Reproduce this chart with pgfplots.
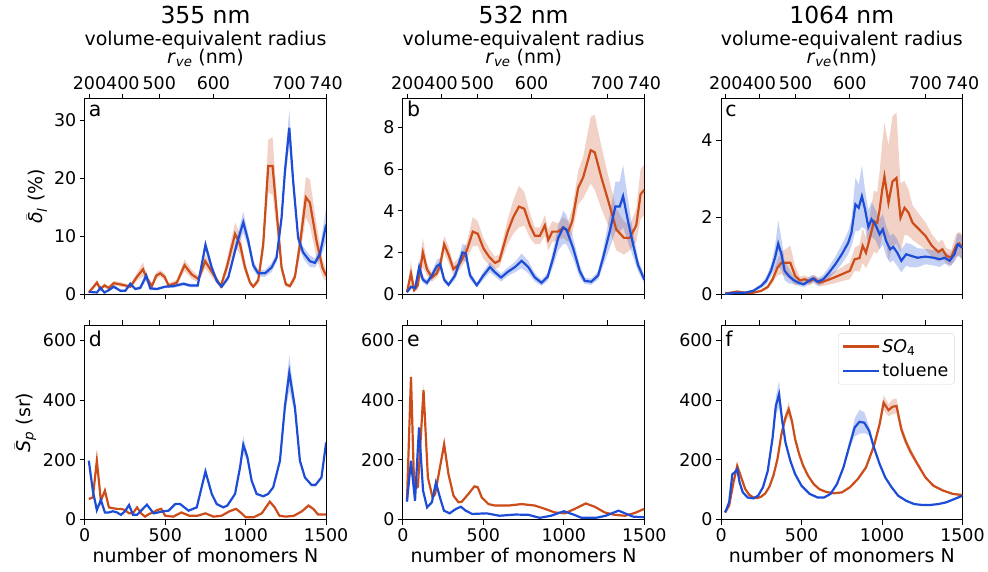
\documentclass[border=0pt]{standalone}
\usepackage{fontspec}
\setmainfont{DejaVu Sans}
\usepackage{pgfplots}
\usepackage{pgfplotstable}
\pgfplotsset{compat=1.18}
\usepgfplotslibrary{fillbetween}

\definecolor{so4}{RGB}{204,77,26}
\definecolor{tol}{RGB}{29,77,214}
\newcommand{\fs}[1]{\fontsize{#1}{#1}\selectfont}

% mean and half-width of the shaded band, per series
\pgfplotstableread{
N y e
25 0.3 0.2
76 2.0 0.5
97 0.9 0.3
122 1.5 0.4
149 1.1 0.3
180 1.9 0.4
221 1.7 0.4
283 1.3 0.3
324 3.0 0.7
362 4.3 1.2
382 2.9 0.8
417 1.4 0.4
444 3.2 0.6
469 3.6 0.6
496 3.0 0.6
521 1.5 0.4
572 2.0 0.5
620 5.0 1.0
665 3.4 0.8
707 2.6 0.6
748 5.7 1.2
800 3.4 0.8
845 1.4 0.4
882 4.6 1.2
934 10.4 2.0
965 8.6 1.8
996 4.6 1.0
1027 2.0 0.5
1047 1.3 0.3
1078 2.4 0.6
1109 8.6 2.0
1140 22.1 4.5
1167 22.1 5.0
1192 14.3 3.0
1223 4.6 1.0
1250 1.7 0.4
1275 1.4 0.3
1306 3.0 0.8
1337 8.6 2.0
1374 16.7 3.5
1399 15.8 4.0
1440 9.2 3.0
1477 4.6 1.5
1500 3.2 1.0
}\aSO
\pgfplotstableread{
N y e
25 0.4 0.1
76 0.3 0.1
97 1.1 0.3
122 0.3 0.1
149 0.7 0.2
180 1.3 0.3
221 0.6 0.2
252 0.6 0.2
283 1.8 0.4
314 0.9 0.2
345 1.1 0.3
382 3.2 0.8
407 1.0 0.3
448 0.9 0.2
500 1.3 0.2
552 1.4 0.3
614 1.8 0.3
655 1.5 0.3
702 1.5 0.3
750 8.5 1.0
789 4.6 0.7
820 2.3 0.4
851 1.3 0.3
892 2.9 0.5
944 8.6 1.0
985 12.4 1.8
1016 9.2 1.2
1047 5.0 0.8
1078 3.6 0.6
1120 3.6 0.6
1161 4.6 0.8
1192 6.3 0.8
1223 13.2 1.2
1244 21.2 1.8
1271 28.7 3.0
1295 19.5 2.0
1326 9.7 1.0
1357 7.2 1.0
1399 5.7 1.0
1430 5.4 0.8
1461 6.9 1.0
1500 12.0 3.0
}\aTO
\pgfplotstableread{
N y e
25 0.1 0.1
50 1.0 0.6
70 0.2 0.1
91 0.4 0.2
124 2.0 0.7
149 1.2 0.3
180 0.8 0.2
211 1.0 0.2
231 1.4 0.3
256 2.4 0.4
283 1.9 0.4
314 1.2 0.3
355 1.5 0.3
397 2.1 0.4
434 3.0 0.7
465 2.9 0.6
500 2.2 0.5
535 1.8 0.4
572 1.5 0.3
599 1.6 0.3
651 3.0 0.6
686 3.7 0.8
721 4.2 1.0
754 4.1 0.8
789 3.3 0.6
820 2.8 0.4
851 2.8 0.4
882 3.3 0.5
903 2.6 0.5
928 3.0 0.5
965 3.0 0.4
996 3.2 0.5
1027 3.0 0.5
1052 3.5 0.6
1089 5.1 0.8
1120 5.6 1.0
1167 6.9 1.6
1192 6.8 1.8
1233 5.6 1.5
1275 4.5 1.2
1326 3.1 1.0
1374 2.7 0.8
1409 2.7 0.6
1450 3.3 0.8
1477 4.8 1.2
1500 5.0 1.2
}\bSO
\pgfplotstableread{
N y e
25 0.1 0.05
50 0.35 0.1
76 0.3 0.1
101 1.3 0.4
124 0.7 0.15
149 0.55 0.15
180 0.9 0.2
211 1.35 0.3
231 1.45 0.3
256 0.7 0.15
283 0.45 0.1
324 0.9 0.2
370 2.0 0.4
390 1.95 0.4
417 0.9 0.2
459 0.43 0.1
500 0.9 0.2
541 1.3 0.25
572 1.05 0.2
610 0.8 0.2
651 1.07 0.2
696 1.3 0.25
738 1.6 0.35
779 1.3 0.3
820 0.8 0.2
861 0.55 0.15
899 0.83 0.2
934 1.75 0.4
965 2.7 0.6
996 3.2 0.8
1016 3.1 0.7
1058 2.2 0.5
1099 1.1 0.3
1130 0.64 0.15
1171 0.6 0.15
1213 0.9 0.2
1244 1.75 0.4
1285 3.0 0.8
1320 4.2 1.2
1347 4.2 1.2
1368 4.7 1.5
1399 3.5 1.0
1430 2.4 0.6
1461 1.4 0.3
1500 0.7 0.2
}\bTO
\pgfplotstableread{
N y e
25 0.02 0.01
100 0.07 0.02
150 0.04 0.02
200 0.04 0.02
250 0.09 0.03
290 0.19 0.05
320 0.39 0.1
350 0.69 0.2
375 0.82 0.3
400 0.82 0.35
430 0.82 0.45
460 0.48 0.25
490 0.36 0.1
520 0.39 0.1
550 0.33 0.1
580 0.41 0.1
610 0.3 0.1
650 0.35 0.12
700 0.43 0.15
750 0.52 0.18
800 0.61 0.22
830 0.91 0.3
860 0.94 0.35
880 1.26 0.45
900 1.08 0.4
920 1.39 0.55
950 1.9 0.8
970 1.86 0.8
985 2.2 1.0
1000 2.68 1.2
1015 3.07 1.4
1040 2.38 1.5
1065 2.93 1.7
1090 3.03 1.7
1115 1.99 0.9
1140 2.25 0.7
1165 2.12 0.6
1190 1.86 0.45
1230 1.69 0.4
1270 1.52 0.35
1310 1.26 0.3
1350 1.1 0.25
1375 1.17 0.25
1400 1.0 0.2
1430 0.95 0.2
1460 1.26 0.3
1480 1.32 0.3
1500 1.21 0.35
}\cSO
\pgfplotstableread{
N y e
25 0.01 0.01
100 0.04 0.01
150 0.04 0.02
200 0.09 0.03
250 0.22 0.06
280 0.35 0.1
310 0.61 0.15
335 0.95 0.3
355 1.32 0.6
375 1.04 0.4
395 0.61 0.25
420 0.48 0.2
450 0.37 0.1
485 0.29 0.08
515 0.26 0.08
545 0.35 0.1
570 0.41 0.1
600 0.32 0.1
635 0.39 0.12
670 0.56 0.15
710 0.78 0.2
750 1.04 0.25
790 1.34 0.3
810 1.6 0.35
835 2.34 0.7
855 2.25 0.6
875 2.55 0.8
895 2.2 0.5
915 1.75 0.45
935 1.95 0.45
960 1.8 0.4
985 1.56 0.4
1005 1.69 0.4
1025 1.39 0.4
1050 1.17 0.35
1070 1.23 0.35
1095 1.08 0.35
1120 0.87 0.3
1150 1.04 0.3
1180 1.0 0.3
1220 0.95 0.25
1270 0.98 0.2
1320 0.95 0.2
1360 0.91 0.2
1390 0.95 0.15
1420 0.87 0.15
1450 1.04 0.2
1470 1.3 0.3
1500 1.21 0.3
}\cTO
\pgfplotstableread{
N y e
25 69 3
50 74 3
75 197 5
100 63 3
125 97 4
150 41 2
175 38 2
200 36 2
225 36 2
250 32 2
275 21 2
300 22 2
325 41 2
350 21 2
375 10 2
400 19 2
425 24 2
450 32 2
475 36 2
500 13 2
550 10 2
600 24 2
650 13 2
700 13 2
750 21 2
800 10 2
850 13 2
900 28 2
940 36 3
975 21 2
1000 8 1
1050 8 1
1100 21 2
1150 60 6
1180 41 4
1210 13 2
1250 10 2
1300 13 2
1350 28 3
1390 47 5
1420 36 3
1450 17 2
1500 17 2
}\dSO
\pgfplotstableread{
N y e
25 197 5
50 97 4
75 32 2
100 66 3
125 24 2
150 24 2
175 28 2
200 24 2
225 16 2
250 28 2
275 49 2
300 16 2
325 16 2
350 30 2
386 50 3
428 21 2
490 28 2
521 30 2
562 52 3
593 52 3
645 30 2
696 41 2
750 161 8
789 86 4
820 52 3
861 41 2
886 47 3
934 86 4
965 175 8
985 250 30
1010 210 12
1037 130 6
1068 86 4
1109 78 3
1140 86 4
1171 108 5
1213 197 8
1244 380 25
1271 491 60
1306 375 20
1337 197 8
1368 141 5
1409 116 5
1434 116 5
1471 141 5
1500 258 8
}\dTO
\pgfplotstableread{
N y e
25 63 3
50 477 20
70 102 5
93 110 5
128 433 25
155 141 6
184 74 4
200 86 4
256 252 18
283 152 6
314 80 4
345 58 3
366 60 3
407 86 3
444 111 5
465 108 5
490 74 3
531 52 2
572 47 2
655 47 2
738 52 3
820 47 2
882 36 2
944 24 2
1006 21 2
1068 36 2
1136 54 3
1192 43 2
1254 24 2
1316 16 2
1378 13 2
1440 22 2
1500 36 2
}\eSO
\pgfplotstableread{
N y e
25 60 3
50 197 6
75 63 3
100 308 10
125 97 4
150 41 2
180 58 3
205 124 5
230 74 3
255 30 2
290 21 2
330 36 2
360 43 2
390 30 2
430 19 2
520 21 2
600 13 2
700 17 2
780 16 2
850 6 1
920 13 2
1000 28 2
1060 17 2
1110 6 1
1200 6 1
1260 13 2
1340 30 2
1380 21 2
1430 10 1
1500 8 1
}\eTO
\pgfplotstableread{
N y e
25 24 2
50 47 3
75 119 4
100 180 6
125 141 5
150 102 4
175 83 3
200 74 3
225 72 3
250 77 3
275 88 3
300 110 4
325 147 5
350 202 8
375 286 12
400 341 15
420 369 25
440 330 15
460 269 12
485 219 10
510 180 8
540 147 6
575 119 5
610 102 4
650 93 4
700 88 3
750 91 3
800 108 4
850 136 5
900 174 7
950 247 12
985 319 15
1010 391 25
1040 366 20
1065 377 25
1090 380 25
1120 302 18
1150 258 14
1180 224 12
1220 186 8
1270 141 5
1320 113 4
1380 97 3
1440 86 3
1500 82 3
}\fSO
\pgfplotstableread{
N y e
25 24 2
50 58 3
70 152 5
85 158 5
100 169 6
115 124 5
135 91 4
165 74 3
200 71 3
230 80 3
260 108 4
290 163 6
320 274 15
340 380 30
360 419 45
380 330 20
400 258 10
430 197 7
460 152 5
500 113 4
550 86 3
600 74 3
640 74 3
680 86 3
720 119 4
760 174 6
800 252 12
830 308 30
860 327 40
890 324 35
920 297 15
950 241 8
985 186 6
1020 141 5
1060 108 4
1100 80 3
1150 63 2
1200 52 2
1250 49 2
1300 49 2
1350 52 2
1400 58 2
1450 69 2
1500 80 3
}\fTO

% band + line: table, colour, path id
\newcommand{\series}[3]{%
  \addplot[draw=none, name path=u#3, forget plot] table[x=N, y expr=\thisrow{y}+\thisrow{e}] {#1};
  \addplot[draw=none, name path=l#3, forget plot] table[x=N, y expr=\thisrow{y}-\thisrow{e}] {#1};
  \addplot[fill=#2, fill opacity=0.25, draw=none, forget plot] fill between[of=u#3 and l#3];
  \addplot[#2, line width=2.2pt] table[x=N, y=y] {#1};
}

\pgfplotsset{
  frame/.style={scale only axis, width=242pt, xmin=0, xmax=1500, ymin=0,
    anchor=south west, tick align=outside, major tick length=5pt,
    axis line style={line width=0.9pt}, tick style={line width=0.9pt, black},
    ticklabel style={font=\fs{17.5}},
    /pgf/number format/assume math mode=true,
    /pgf/number format/1000 sep={}},
  panel/.style={frame, xtick={0,500,1000,1500}, xtick pos=bottom, ytick pos=left,
    label style={font=\fs{19}}},
  topax/.style={frame, ymax=1, axis x line*=top, hide y axis,
    xtick={29.6,236.9,462.7,799.6,1269.7,1500}},
  rlab/.style={xticklabels={200,400,500,600,700,740}},
}
\newcommand{\blank}{\addplot[draw=none, forget plot] coordinates {(0,0) (1500,1)};}
\newcommand{\letter}[2]{\node[anchor=base west, font=\fs{20.5}, inner sep=0pt]
  at (rel axis cs:0,1) [xshift=4pt, yshift=-#2] {#1};}
\newcommand{\heads}[2]{%
  \node[anchor=base, font=\fs{23.5}] at (rel axis cs:0.5,1) [yshift=75.7pt] {#1};
  \node[anchor=base, font=\fs{19}] at (rel axis cs:0.5,1) [yshift=53.5pt] {volume-equivalent radius};
  \node[anchor=base, font=\fs{19}] at (rel axis cs:0.5,1) [yshift=35pt] {#2};}

\begin{document}
\begin{tikzpicture}
\path (0,0) rectangle (988pt,573pt);

% ---- top row: depolarisation ratio
\begin{axis}[topax, rlab, height=196pt, at={(85pt,278pt)}, clip=false]
\blank
\heads{355 nm}{\textit{r}\textsubscript{\textit{ve}} (nm)}
\end{axis}
\begin{axis}[panel, height=196pt, at={(85pt,278pt)}, ymax=33.7, xticklabels={},
  ytick={0,10,20,30},
  ylabel={$\bar{\mbox{\itshape δ}}_{\mbox{\fs{13.5}\itshape l}}$ (\%)}]
\series{\aSO}{so4}{a1}
\series{\aTO}{tol}{a2}
\letter{a}{18pt}
\end{axis}

\begin{axis}[topax, rlab, height=196pt, at={(404pt,278pt)}, clip=false]
\blank
\heads{532 nm}{\textit{r}\textsubscript{\textit{ve}} (nm)}
\end{axis}
\begin{axis}[panel, height=196pt, at={(404pt,278pt)}, ymax=9.37, xticklabels={},
  ytick={0,2,4,6,8}]
\series{\bSO}{so4}{b1}
\series{\bTO}{tol}{b2}
\letter{b}{18pt}
\end{axis}

\begin{axis}[topax, rlab, height=196pt, at={(723pt,278pt)}, clip=false]
\blank
\heads{1064 nm}{\textit{r}\textsubscript{\textit{ve}}(nm)}
\end{axis}
\begin{axis}[panel, height=196pt, at={(723pt,278pt)}, ymax=5.09, xticklabels={},
  ytick={0,2,4}]
\series{\cSO}{so4}{c1}
\series{\cTO}{tol}{c2}
\letter{c}{18pt}
\end{axis}

% ---- bottom row: lidar ratio
\begin{axis}[topax, height=195pt, at={(85pt,52pt)}, xticklabels={}]
\blank
\end{axis}
\begin{axis}[panel, height=195pt, at={(85pt,52pt)}, ymax=650, ytick={0,200,400,600},
  xlabel={number of monomers N},
  ylabel={$\bar{\mbox{\itshape S}}_{\mbox{\fs{13.5}\itshape p}}$ (sr)}]
\series{\dSO}{so4}{d1}
\series{\dTO}{tol}{d2}
\letter{d}{21pt}
\end{axis}

\begin{axis}[topax, height=195pt, at={(404pt,52pt)}, xticklabels={}]
\blank
\end{axis}
\begin{axis}[panel, height=195pt, at={(404pt,52pt)}, ymax=650, ytick={0,200,400,600},
  xlabel={number of monomers N}]
\series{\eSO}{so4}{e1}
\series{\eTO}{tol}{e2}
\letter{e}{21pt}
\end{axis}

\begin{axis}[topax, height=195pt, at={(723pt,52pt)}, xticklabels={}]
\blank
\end{axis}
\begin{axis}[panel, height=195pt, at={(723pt,52pt)}, ymax=650, ytick={0,200,400,600},
  xlabel={number of monomers N},
  legend style={at={(rel axis cs:0.967,0.959)}, anchor=north east,
    draw=black!15, rounded corners=3pt, fill=white, font=\fs{17.5},
    inner xsep=4pt, inner ysep=4pt, row sep=6pt},
  legend cell align=left,
  legend image code/.code={\draw[#1, line width=2.2pt] (0pt,0pt) -- (36pt,0pt);}]
\series{\fSO}{so4}{f1}
\series{\fTO}{tol}{f2}
\letter{f}{21pt}
\legend{\textit{SO}\textsubscript{4}, toluene}
\end{axis}
\end{tikzpicture}
\end{document}
